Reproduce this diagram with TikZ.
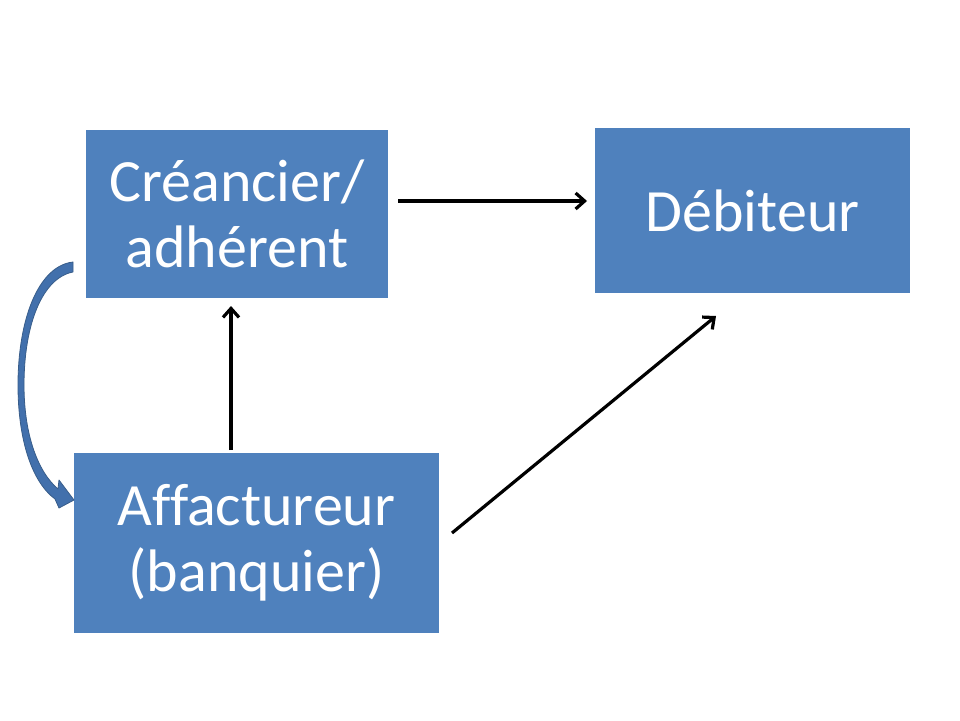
\documentclass[tikz,border=0pt]{standalone}
\usepackage{fontspec}
\setmainfont{Carlito}[Ligatures={NoCommon}]
\usetikzlibrary{arrows.meta}
\definecolor{boxblue}{RGB}{79,129,189}
\definecolor{arcfill}{RGB}{66,112,172}
\definecolor{arcline}{RGB}{56,93,138}
\tikzset{
  bluebox/.style={rectangle, fill=boxblue, text=white, align=center, inner sep=0pt,
    font=\fontsize{60}{66}\selectfont},
  conn/.style={line width=3.2pt, -{Straight Barb[length=9pt,width=16pt,line width=3.2pt]}},
}
\begin{document}
\begin{tikzpicture}[x=1pt,y=-1pt]
\useasboundingbox (0,0) rectangle (960,720);
\fill[white] (0,0) rectangle (960,720);
\node[bluebox, minimum width=302pt, minimum height=168pt] (cre) at (237,214) {Créancier/\\adhérent};
\node[bluebox, minimum width=315pt, minimum height=165pt] (deb) at (752.5,210.5) {Débiteur};
\node[bluebox, minimum width=365pt, minimum height=180pt] (aff) at (256.5,543) {Affactureur\\(banquier)};
\coordinate (h1) at (398,201);
\coordinate (h2) at (587,201);
\coordinate (v1) at (231,450);
\coordinate (v2) at (231,306);
\coordinate (d1) at (452,533);
\coordinate (d2) at (716,316);
\draw[conn] (h1) -- (h2);
\draw[conn] (v1) -- (v2);
\draw[conn] (d1) -- (d2);
% curved block arrow from cre to aff
\filldraw[fill=arcfill, draw=arcline, line width=0.8pt, line join=round]
  (73,262) .. controls (38,266) and (18,320) .. (18,385)
  .. controls (18,440) and (32,482) .. (55,499)
  -- (59,508) -- (74,500) -- (59,480) -- (58,489)
  .. controls (38,472) and (24,435) .. (24,385)
  .. controls (24,325) and (42,278) .. (73,272) -- cycle;
\end{tikzpicture}
\end{document}
